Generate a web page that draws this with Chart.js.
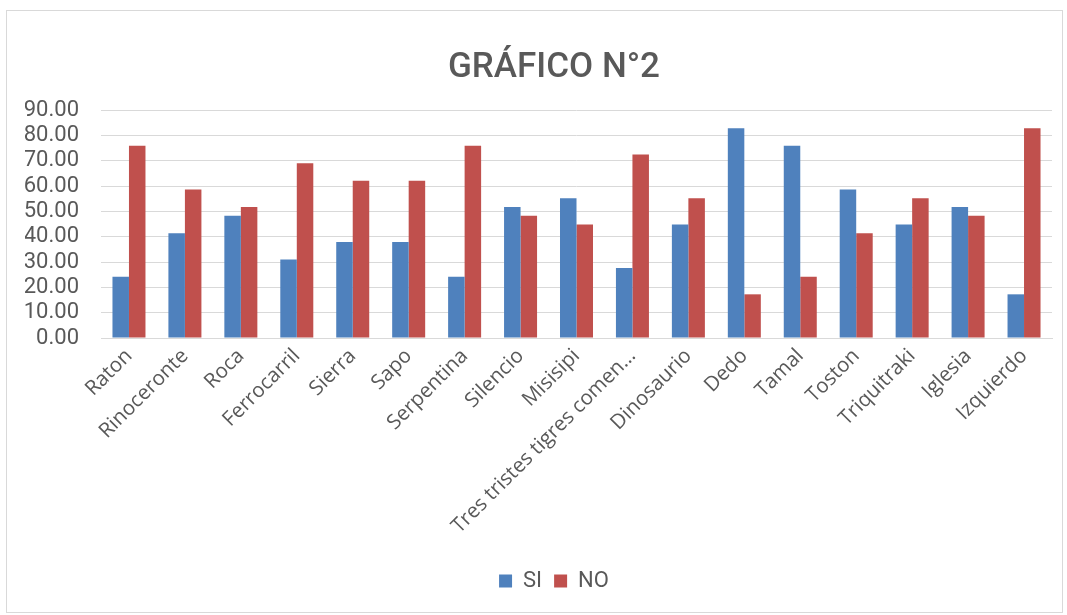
<!DOCTYPE html>
<html>
<head>
<meta charset="utf-8">
<script src="https://cdn.jsdelivr.net/npm/chart.js@4/dist/chart.umd.min.js"></script>
<style>
  body { margin: 0; background: #fff; overflow: hidden; }
  #box { position: absolute; left: 6px; top: 10px; width: 1055px; height: 601px; border: 1px solid #d9d9d9; }
</style>
</head>
<body>
<div id="box"><canvas id="myChart" width="1055" height="601"></canvas></div>
<script>
const categories = ['Raton','Rinoceronte','Roca','Ferrocarril','Sierra','Sapo','Serpentina','Silencio','Misisipi','Tres tristes tigres comen\u2026','Dinosaurio','Dedo','Tamal','Toston','Triquitraki','Iglesia','Izquierdo'];
const siValues = [24.14,41.38,48.28,31.03,37.93,37.93,24.14,51.72,55.17,27.59,44.83,82.76,75.86,58.62,44.83,51.72,17.24];
const noValues = [75.86,58.62,51.72,68.97,62.07,62.07,75.86,48.28,44.83,72.41,55.17,17.24,24.14,41.38,55.17,48.28,82.76];
const yTicks = [0,10,20,30,40,50,60,70,80,90];

let ctx = document.getElementById('myChart').getContext('2d');

let barChart = new Chart(ctx, {
    type:'bar',
    data:{
        labels: categories,
        datasets:[{
            label:'SI',
            data: siValues,
            backgroundColor:'#4f81bd',
            categoryPercentage:0.59,
            barPercentage:1
        },{
            label:'NO',
            data: noValues,
            backgroundColor:'#c0504d',
            categoryPercentage:0.59,
            barPercentage:1
        }]
    },
    options:{
        responsive:false,
        animation:false,
        // title and legend are centred a bit right of the frame, like the original
        layout:{ padding:{ left:18, right:-21, top:0, bottom:10 } },
        scales:{
            x:{
                grid:{ display:false, drawTicks:false },
                border:{ color:'#d9d9d9', width:1 },
                ticks:{
                    minRotation:45,
                    maxRotation:45,
                    autoSkip:false,
                    color:'#595959',
                    padding:6,
                    font:{ family:"'Open Sans', sans-serif", size:20.5 }
                },
                afterFit(scale){ scale.height = 220; }
            },
            y:{
                min:yTicks[0],
                max:yTicks[yTicks.length-1],
                afterBuildTicks(scale){ scale.ticks = yTicks.map(v => ({value:v})); },
                grid:{ color:'#d9d9d9', drawTicks:false },
                border:{ display:false },
                ticks:{
                    autoSkip:false,
                    color:'#595959',
                    padding:22,
                    font:{ family:"'Liberation Sans Narrow', 'Roboto', sans-serif", size:22 },
                    callback:(v) => Number(v).toFixed(2)
                },
                afterFit(scale){ scale.width = 76; }
            },
            yRight:{
                position:'right',
                grid:{ display:false },
                border:{ display:false },
                ticks:{ display:false },
                afterFit(scale){ scale.width = 31; }
            }
        },
        plugins:{
            title:{
                display:true,
                text:'GRÁFICO N°2',
                color:'#595959',
                font:{ family:"'Liberation Sans Narrow', 'Roboto', sans-serif", size:35, weight:'500' },
                padding:{ top:36, bottom:21 }
            },
            legend:{
                position:'bottom',
                labels:{
                    boxWidth:13,
                    boxHeight:13,
                    color:'#595959',
                    padding:12,
                    font:{ family:"'Liberation Sans Narrow', 'Roboto', sans-serif", size:22 }
                }
            },
            tooltip:{ enabled:false }
        }
    }
});
</script>
</body>
</html>
